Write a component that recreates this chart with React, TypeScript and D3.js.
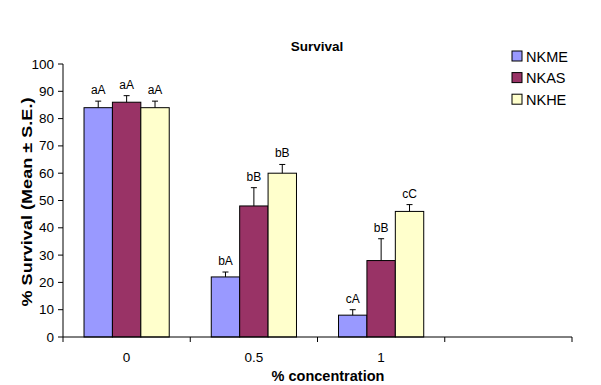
import { useEffect, useRef } from "react";
import * as d3 from "d3";

const categories = ["0", "0.5", "1", ""];
const seriesNames = ["NKME", "NKAS", "NKHE"];
const seriesColors = ["#9999FF", "#993366", "#FFFFCC"];
const nkme = [84, 22, 8];
const nkas = [86, 48, 28];
const nkhe = [84, 60, 46];
const nkmeErr = [2.4, 1.8, 2];
const nkasErr = [2.4, 6.7, 8];
const nkheErr = [2.4, 3.2, 2.5];
const nkmeLabels = ["aA", "bA", "cA"];
const nkasLabels = ["aA", "bB", "bB"];
const nkheLabels = ["aA", "bB", "cC"];
const yTicks = [0, 10, 20, 30, 40, 50, 60, 70, 80, 90, 100];

export default function App() {
  const ref = useRef<SVGSVGElement>(null);

  useEffect(() => {
    const svg = d3.select(ref.current);
    svg.selectAll("*").remove();
    const font = "Arial, 'Liberation Sans', sans-serif";

    const left = 63;
    const right = 572;
    const top = 64;
    const bottom = 337;

    const x = d3.scaleBand().domain(categories.map((_, i) => String(i))).range([left, right]);
    // excel gap width ~150%
    const inner = d3
      .scaleBand()
      .domain(seriesNames)
      .range([0, x.bandwidth()])
      .paddingOuter(0.74)
      .paddingInner(0);
    const y = d3.scaleLinear().domain([0, 100]).range([bottom, top]);

    const series = [
      { name: seriesNames[0], vals: nkme, errs: nkmeErr, labels: nkmeLabels, color: seriesColors[0] },
      { name: seriesNames[1], vals: nkas, errs: nkasErr, labels: nkasLabels, color: seriesColors[1] },
      { name: seriesNames[2], vals: nkhe, errs: nkheErr, labels: nkheLabels, color: seriesColors[2] },
    ];

    // title
    svg
      .append("text")
      .attr("x", 317)
      .attr("y", 51)
      .attr("text-anchor", "middle")
      .attr("font-family", font)
      .attr("font-size", 13.5)
      .attr("font-weight", "bold")
      .text("Survival");

    // bars
    series.forEach((s) => {
      s.vals.forEach((v, i) => {
        const bx = x(String(i))! + inner(s.name)!;
        const bw = inner.bandwidth();
        svg
          .append("rect")
          .attr("x", bx)
          .attr("y", y(v))
          .attr("width", bw)
          .attr("height", y(0) - y(v))
          .attr("fill", s.color)
          .attr("stroke", "#000")
          .attr("stroke-width", 1);
        const cx = bx + bw / 2;
        const ey = y(v + s.errs[i]);
        svg
          .append("line")
          .attr("x1", cx)
          .attr("x2", cx)
          .attr("y1", y(v))
          .attr("y2", ey)
          .attr("stroke", "#000");
        svg
          .append("line")
          .attr("x1", cx - 3)
          .attr("x2", cx + 3)
          .attr("y1", ey)
          .attr("y2", ey)
          .attr("stroke", "#000");
        svg
          .append("text")
          .attr("x", cx)
          .attr("y", ey - 7)
          .attr("text-anchor", "middle")
          .attr("font-family", font)
          .attr("font-size", 12)
          .text(s.labels[i]);
      });
    });

    // y axis
    svg.append("line").attr("x1", left).attr("x2", left).attr("y1", top).attr("y2", bottom).attr("stroke", "#000");
    yTicks.forEach((t) => {
      svg
        .append("line")
        .attr("x1", left - 5)
        .attr("x2", left)
        .attr("y1", y(t))
        .attr("y2", y(t))
        .attr("stroke", "#000");
      svg
        .append("text")
        .attr("x", left - 9)
        .attr("y", y(t) + 4.5)
        .attr("text-anchor", "end")
        .attr("font-family", font)
        .attr("font-size", 13.5)
        .text(t);
    });

    // x axis
    svg.append("line").attr("x1", left).attr("x2", right).attr("y1", bottom).attr("y2", bottom).attr("stroke", "#000");
    categories.forEach((c, i) => {
      const x0 = x(String(i))!;
      svg
        .append("line")
        .attr("x1", x0)
        .attr("x2", x0)
        .attr("y1", bottom)
        .attr("y2", bottom + 5)
        .attr("stroke", "#000");
      svg
        .append("text")
        .attr("x", x0 + x.bandwidth() / 2)
        .attr("y", bottom + 25)
        .attr("text-anchor", "middle")
        .attr("font-family", font)
        .attr("font-size", 13.5)
        .text(c);
    });
    svg
      .append("line")
      .attr("x1", right)
      .attr("x2", right)
      .attr("y1", bottom)
      .attr("y2", bottom + 5)
      .attr("stroke", "#000");

    // axis titles
    svg
      .append("text")
      .attr("x", 328)
      .attr("y", 381)
      .attr("text-anchor", "middle")
      .attr("font-family", font)
      .attr("font-size", 14.5)
      .attr("font-weight", "bold")
      .text("% concentration");
    svg
      .append("text")
      .attr("transform", `translate(32,${202}) rotate(-90)`)
      .attr("text-anchor", "middle")
      .attr("font-family", font)
      .attr("font-size", 15)
      .attr("font-weight", "bold")
      .attr("textLength", 209)
      .attr("lengthAdjust", "spacingAndGlyphs")
      .text("% Survival (Mean ± S.E.)");

    // legend
    series.forEach((s, i) => {
      const ly = 56 + i * 21.6;
      svg
        .append("rect")
        .attr("x", 512)
        .attr("y", ly - 5)
        .attr("width", 10)
        .attr("height", 10)
        .attr("fill", s.color)
        .attr("stroke", "#000");
      svg
        .append("text")
        .attr("x", 526)
        .attr("y", ly + 5.5)
        .attr("font-family", font)
        .attr("font-size", 14.5)
        .text(s.name);
    });
  }, []);

  return (
    <svg
      ref={ref}
      width={601}
      height={385}
      style={{ position: "absolute", left: 0, top: 0, background: "#fff" }}
    />
  );
}
